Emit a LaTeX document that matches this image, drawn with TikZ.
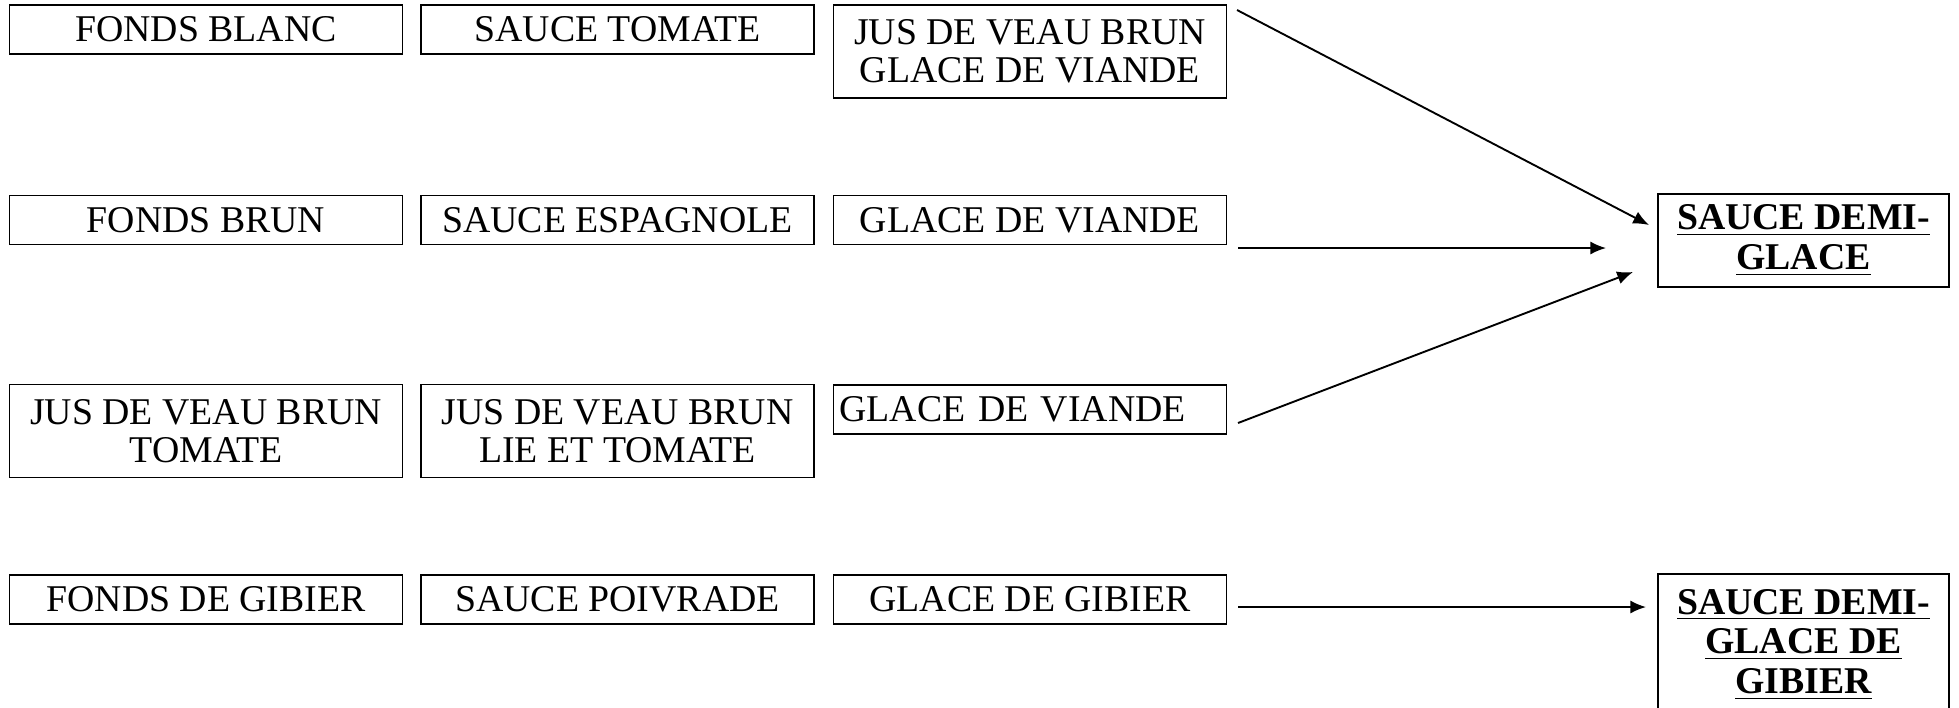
\documentclass[tikz,border=0pt]{standalone}
\usepackage{fontspec}
\setmainfont{Liberation Serif}
\usepackage{tikz}
\usetikzlibrary{arrows.meta}
\tikzset{box/.style={rectangle, draw=black, line width=0.55pt, minimum width=124.8pt, minimum height=15.6pt, inner sep=0pt, align=center, font=\fontsize{12}{12.1}\selectfont},
tall/.style={box, minimum height=29.5pt},
result/.style={box, minimum width=92.4pt, minimum height=29.5pt, font=\fontsize{12}{12.6}\selectfont\bfseries},
arr/.style={line width=0.6pt, -{Latex[length=5pt,width=4.2pt]}}}

\begin{document}
\begin{tikzpicture}[x=0.3175pt,y=-0.3175pt]
\useasboundingbox (0,0) rectangle (1959,707);
\node[box] (fblanc) at (206,29.5) {FONDS BLANC};
\node[box] (stomate) at (617.5,29.5) {SAUCE TOMATE};
\node[tall] (jusglace) at (1030,51.5) {JUS DE VEAU BRUN\\GLACE DE VIANDE};
\node[box] (fbrun) at (206,220) {FONDS BRUN};
\node[box] (sespagnole) at (617.5,220) {SAUCE ESPAGNOLE};
\node[box] (gviande) at (1030,220) {GLACE DE VIANDE};
\node[tall] (justomate) at (206,431) {JUS DE VEAU BRUN\\TOMATE};
\node[tall] (juslie) at (617.5,431) {JUS DE VEAU BRUN\\LIE ET TOMATE};
\node[box, text width=121pt, align=left, inner xsep=1.9pt] (gviandeb) at (1030,409.5) {GLACE DE VIANDE};
\node[box] (fgibier) at (206,599.5) {FONDS DE GIBIER};
\node[box] (spoivrade) at (617.5,599.5) {SAUCE POIVRADE};
\node[box] (ggibier) at (1030,599.5) {GLACE DE GIBIER};
\node[result] (demiglace) at (1803.5,240.5) {\underline{SAUCE DEMI-}\\\underline{GLACE}};
\node[result, minimum height=44.8pt] (demigibier) at (1803.5,644.5) {\underline{SAUCE DEMI-}\\\underline{GLACE DE}\\\underline{GIBIER}};
\coordinate (s1) at (1237,10);
\coordinate (e1) at (1649,225);
\coordinate (s2) at (1238,248);
\coordinate (e2) at (1606,248);
\coordinate (s3) at (1238,423);
\coordinate (e3) at (1633,272);
\coordinate (s4) at (1238,607);
\coordinate (e4) at (1646,607);
\foreach \i in {1,...,4}
  \draw[arr] (s\i) -- (e\i);
\end{tikzpicture}
\end{document}
